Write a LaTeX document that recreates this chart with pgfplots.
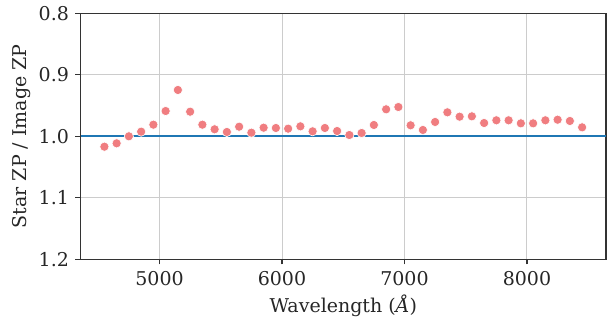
\documentclass[border=0pt]{standalone}
\usepackage{pgfplots}
\pgfplotsset{compat=1.18}
\usepackage{fontspec}
\setmainfont{DejaVu Serif}
\definecolor{lcoral}{RGB}{240,125,128}
\definecolor{tabblue}{HTML}{1F77B4}
\definecolor{spine}{HTML}{333333}
\definecolor{txt}{HTML}{262626}
\definecolor{gridc}{HTML}{CCCCCC}
\begin{document}
\begin{tikzpicture}
\path[use as bounding box] (0pt,0pt) rectangle (614pt,320pt);
\begin{axis}[
  at={(80.5pt,60.7pt)}, anchor=south west,
  scale only axis, width=525.5pt, height=246pt,
  xmin=4355, xmax=8645, ymin=0.8, ymax=1.2, y dir=reverse,
  xtick={5000,6000,7000,8000}, ytick={0.8,0.9,1.0,1.1,1.2},
  yticklabel style={/pgf/number format/.cd,fixed,fixed zerofill,precision=1},
  xticklabel style={/pgf/number format/.cd,set thousands separator={}},
  /pgf/number format/assume math mode=true,
  ticklabel style={font=\fontsize{19}{23}\selectfont, text=txt},
  label style={font=\fontsize{19}{23}\selectfont, text=txt},
  xlabel={Wavelength ({\itshape Å})},
  ylabel={Star ZP / Image ZP},
  xlabel style={at={(axis description cs:0.5,0)}, anchor=base, yshift=-53pt},
  ylabel style={at={(axis description cs:0,0.5)}, anchor=base, yshift=54pt},
  grid=major, major grid style={gridc, line width=1pt},
  axis line style={spine, line width=1.25pt},
  tick style={spine, line width=1.25pt},
  tick align=outside, major tick length=5pt,
  xtick pos=bottom, ytick pos=left,
  xticklabel shift=4pt, yticklabel shift=3pt,
  clip=false,
]
\addplot[tabblue, line width=2pt, forget plot] coordinates {(4355,1.0) (8645,1.0)};
\addplot[only marks, mark=*, mark size=4.6pt, mark options={fill=lcoral, draw=white, line width=0.6pt}] coordinates {
(4550,1.0169) (4650,1.0114) (4750,1.0000) (4850,0.9925) (4950,0.9811)
(5050,0.9589) (5150,0.9247) (5250,0.9600) (5350,0.9811) (5450,0.9886)
(5550,0.9930) (5650,0.9844) (5750,0.9941) (5850,0.9860) (5950,0.9865)
(6050,0.9876) (6150,0.9838) (6250,0.9919) (6350,0.9865) (6450,0.9914)
(6550,0.9979) (6650,0.9946) (6750,0.9816) (6850,0.9561) (6950,0.9524)
(7050,0.9821) (7150,0.9897) (7250,0.9767) (7350,0.9610) (7450,0.9681)
(7550,0.9675) (7650,0.9784) (7750,0.9740) (7850,0.9740) (7950,0.9789)
(8050,0.9789) (8150,0.9740) (8250,0.9730) (8350,0.9751) (8450,0.9854)
};
\end{axis}
\end{tikzpicture}
\end{document}
